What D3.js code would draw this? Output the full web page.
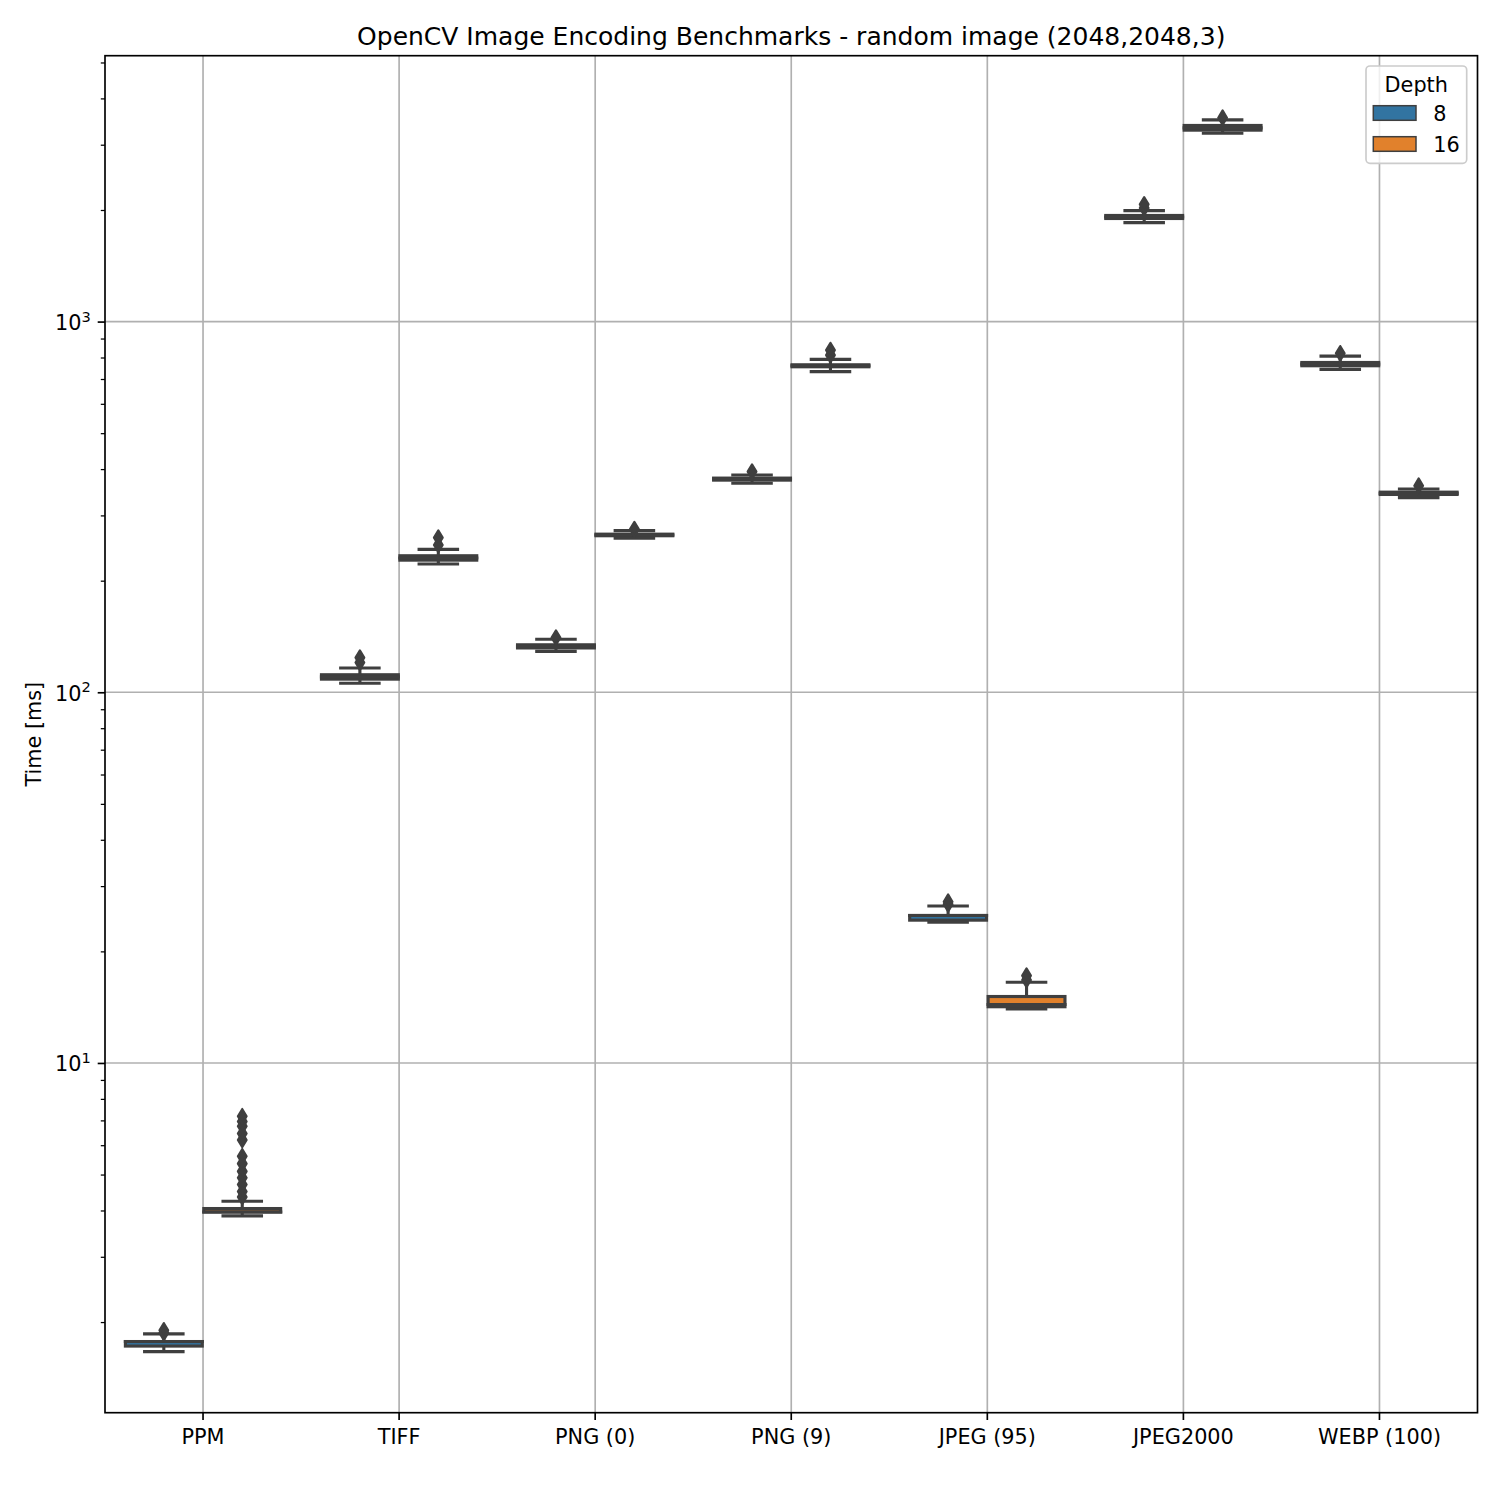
<!DOCTYPE html>
<html>
<head>
<meta charset="utf-8">
<script src="https://cdn.jsdelivr.net/npm/d3@7"></script>
<style>
  html, body { margin: 0; padding: 0; background: #ffffff; }
  svg { display: block; font-family: "DejaVu Sans", sans-serif; }
</style>
</head>
<body>
<svg id="chart" width="1500" height="1500"></svg>
<script>
// ---------------- data ----------------
const categories = ["PPM", "TIFF", "PNG (0)", "PNG (9)", "JPEG (95)", "JPEG2000", "WEBP (100)"];
const depths = ["8", "16"];

// Depth 8 box statistics (ms)
const whisLo8  = [1.664, 105.8, 128.9, 366.3, 23.97, 1849, 743.0];
const q1_8     = [1.723, 108.5, 131.7, 373.5, 24.28, 1897, 760.0];
const med8     = [1.772, 110.0, 133.0, 375.8, 25.00, 1915, 768.0];
const q3_8     = [1.772, 111.5, 134.3, 378.2, 25.00, 1933, 775.6];
const whisHi8  = [1.858, 116.3, 139.0, 385.6, 26.52, 1992, 807.0];
const fliers8  = [[1.87, 1.90], [120.3, 124.0], [140.4], [393.7], [26.8, 27.23], [2025, 2071], [821]];

// Depth 16 box statistics (ms)
const whisLo16 = [3.868, 221.9, 260.3, 733.0, 13.98, 3221, 335.0];
const q1_16    = [3.961, 227.2, 264.4, 755.2, 14.18, 3284, 341.7];
const med16    = [3.961, 230.3, 265.7, 760.0, 14.38, 3330, 344.0];
const q3_16    = [4.048, 233.5, 267.0, 764.6, 15.11, 3381, 346.6];
const whisHi16 = [4.237, 243.0, 272.9, 791.0, 16.51, 3500, 353.5];
const fliers16 = [[4.35, 4.50, 4.70, 4.90, 5.10, 5.35, 5.60, 6.20, 6.45, 6.75, 6.95, 7.18],
                  [249.7, 261.3], [275.5], [812, 837.7], [16.75, 17.20], [3548], [360.8]];

const majorTicks = [10, 100, 1000];
const majorExp = ["1", "2", "3"];
const yDomain = [1.139, 5215];

const titleText = "OpenCV Image Encoding Benchmarks - random image (2048,2048,3)";
const yLabel = "Time [ms]";
const legendTitle = "Depth";

// ---------------- layout ----------------
const L = 105, R = 1477.5, T = 55.7, B = 1412.7;
const fillColors = { "8": "#3274a1", "16": "#e1812c" };
const gray = "#3f3f3f";
const lw = 3.125;
const fs = 20.8;

const svg = d3.select("#chart");

const x = d3.scaleBand().domain(categories).range([L, R]).padding(0);
const bw = x.bandwidth();
const xHue = d3.scaleBand().domain(depths).range([bw * 0.1, bw * 0.9]).padding(0);
const y = d3.scaleLog().domain(yDomain).range([B, T]);

// build records
const records = [];
categories.forEach((c, i) => {
  records.push({ cat: c, depth: "8", lo: whisLo8[i], q1: q1_8[i], med: med8[i], q3: q3_8[i], hi: whisHi8[i], fl: fliers8[i] });
  records.push({ cat: c, depth: "16", lo: whisLo16[i], q1: q1_16[i], med: med16[i], q3: q3_16[i], hi: whisHi16[i], fl: fliers16[i] });
});

// ---------------- grid ----------------
const grid = svg.append("g");
grid.selectAll("line.gx").data(categories).join("line")
  .attr("x1", d => x(d) + bw / 2).attr("x2", d => x(d) + bw / 2)
  .attr("y1", T).attr("y2", B)
  .attr("stroke", "#b0b0b0").attr("stroke-width", 1.67);
grid.selectAll("line.gy").data(majorTicks).join("line")
  .attr("x1", L).attr("x2", R)
  .attr("y1", d => y(d)).attr("y2", d => y(d))
  .attr("stroke", "#b0b0b0").attr("stroke-width", 1.67);

// ---------------- boxes ----------------
const boxW = xHue.bandwidth() * 0.98;
const gBoxes = svg.append("g");
records.forEach(r => {
  const cx = x(r.cat) + xHue(r.depth) + xHue.bandwidth() / 2;
  const g = gBoxes.append("g");
  g.append("rect")
    .attr("x", cx - boxW / 2).attr("width", boxW)
    .attr("y", y(r.q3)).attr("height", Math.max(0.01, y(r.q1) - y(r.q3)))
    .attr("fill", fillColors[r.depth]).attr("stroke", gray)
    .attr("stroke-width", lw).attr("stroke-linejoin", "miter");
  // whiskers
  g.append("line").attr("x1", cx).attr("x2", cx).attr("y1", y(r.q1)).attr("y2", y(r.lo))
    .attr("stroke", gray).attr("stroke-width", lw);
  g.append("line").attr("x1", cx).attr("x2", cx).attr("y1", y(r.q3)).attr("y2", y(r.hi))
    .attr("stroke", gray).attr("stroke-width", lw);
  // caps
  [r.lo, r.hi].forEach(v => {
    g.append("line").attr("x1", cx - boxW / 4).attr("x2", cx + boxW / 4)
      .attr("y1", y(v)).attr("y2", y(v))
      .attr("stroke", gray).attr("stroke-width", lw).attr("stroke-linecap", "square");
  });
  // median
  g.append("line").attr("x1", cx - boxW / 2).attr("x2", cx + boxW / 2)
    .attr("y1", y(r.med)).attr("y2", y(r.med))
    .attr("stroke", gray).attr("stroke-width", lw).attr("stroke-linecap", "square");
  // fliers (thin diamonds)
  const h = 7.35, w = 4.41;
  g.selectAll("path.fl").data(r.fl).join("path")
    .attr("d", d => `M${cx},${y(d) - h}L${cx + w},${y(d)}L${cx},${y(d) + h}L${cx - w},${y(d)}Z`)
    .attr("fill", gray).attr("stroke", gray).attr("stroke-width", 2.08).attr("stroke-linejoin", "round");
});

// ---------------- axes ----------------
const xAxis = d3.axisBottom(x).tickSize(7.3).tickSizeOuter(0).tickPadding(9);
const gx = svg.append("g").attr("transform", `translate(0,${B})`).call(xAxis);
gx.select(".domain").remove();
gx.selectAll(".tick line").attr("stroke", "#000").attr("stroke-width", 1.67);
gx.selectAll(".tick text").attr("font-size", fs).attr("font-family", "DejaVu Sans").attr("fill", "#000");

const minorTicks = [];
[1, 10, 100, 1000].forEach(dec => {
  for (let k = 2; k <= 9; k++) {
    const v = dec * k;
    if (v >= yDomain[0] && v <= yDomain[1]) minorTicks.push(v);
  }
});
const yMajor = d3.axisLeft(y).tickValues(majorTicks).tickSize(7.3).tickSizeOuter(0).tickFormat("");
const gy = svg.append("g").attr("transform", `translate(${L},0)`).call(yMajor);
gy.select(".domain").remove();
gy.selectAll(".tick line").attr("stroke", "#000").attr("stroke-width", 1.67);
const yMinor = d3.axisLeft(y).tickValues(minorTicks).tickSize(4.2).tickSizeOuter(0).tickFormat("");
const gym = svg.append("g").attr("transform", `translate(${L},0)`).call(yMinor);
gym.select(".domain").remove();
gym.selectAll(".tick line").attr("stroke", "#000").attr("stroke-width", 1.25);

// y tick labels with superscripts
majorTicks.forEach((v, i) => {
  const t = svg.append("text")
    .attr("x", L - 7.3 - 7.0).attr("y", y(v) + 8.5)
    .attr("text-anchor", "end").attr("font-size", fs).attr("fill", "#000");
  t.append("tspan").text("10");
  t.append("tspan").attr("dy", -8.5).attr("font-size", 14.6).text(majorExp[i]);
});

// spines
svg.append("rect").attr("x", L).attr("y", T).attr("width", R - L).attr("height", B - T)
  .attr("fill", "none").attr("stroke", "#000").attr("stroke-width", 1.67);

// title & labels
svg.append("text").attr("x", (L + R) / 2).attr("y", 44.5).attr("text-anchor", "middle")
  .attr("font-size", 25).attr("fill", "#000").text(titleText);
svg.append("text").attr("transform", `translate(41,${(T + B) / 2}) rotate(-90)`)
  .attr("text-anchor", "middle").attr("font-size", fs).attr("fill", "#000").text(yLabel);

// ---------------- legend ----------------
const lg = svg.append("g");
lg.append("rect").attr("x", 1366).attr("y", 66).attr("width", 100.7).attr("height", 97.3)
  .attr("rx", 4).attr("ry", 4)
  .attr("fill", "#ffffff").attr("fill-opacity", 0.8)
  .attr("stroke", "#cccccc").attr("stroke-width", 1.67);
lg.append("text").attr("x", 1416.3).attr("y", 91.7).attr("text-anchor", "middle")
  .attr("font-size", fs).attr("fill", "#000").text(legendTitle);
const legY = d3.scalePoint().domain(depths).range([105.7, 136.7]);
depths.forEach(d => {
  lg.append("rect").attr("x", 1373.3).attr("y", legY(d)).attr("width", 42.7).attr("height", 14.6)
    .attr("fill", fillColors[d]).attr("stroke", gray).attr("stroke-width", 1.5);
  lg.append("text").attr("x", 1433.3).attr("y", legY(d) + 15)
    .attr("font-size", fs).attr("fill", "#000").text(d);
});
</script>
</body>
</html>
